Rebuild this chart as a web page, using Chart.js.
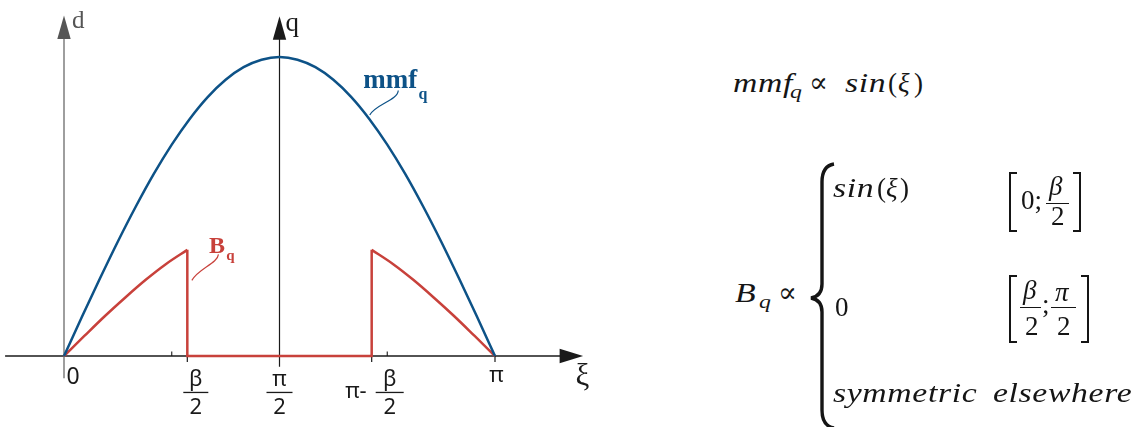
<!DOCTYPE html>
<html>
<head>
<meta charset="utf-8">
<script src="https://cdn.jsdelivr.net/npm/chart.js@4.4.1/dist/chart.umd.min.js"></script>
<style>
  html, body { margin: 0; padding: 0; background: #fff; }
  body { width: 1144px; height: 427px; position: relative; overflow: hidden; }
  #plot { position: absolute; left: 0; top: 0; }
  .m {
    position: absolute; white-space: nowrap; color: #151515;
    font-family: "Liberation Serif", "Times New Roman", "DejaVu Serif", serif;
    font-style: italic; font-size: 27px; line-height: 27px;
  }
  /* math italic words run wider than text italic */
  .w { transform: scaleX(1.25); transform-origin: 0 0; letter-spacing: 0.5px; }
  .r { font-style: normal; }
  .s { font-size: 19px; line-height: 19px; }
  .sym { position: absolute; font-family: "DejaVu Serif", serif; font-size: 28px; line-height: 28px; color: #151515; }
  .bar { position: absolute; height: 1.3px; background: #151515; }
  .brk { position: absolute; width: 6px; border: 2px solid #151515; }
  .brk.l { border-right: none; }
  .brk.rt { border-left: none; }
  #brace { position: absolute; left: 0; top: 0; pointer-events: none; }
</style>
</head>
<body>
<canvas id="plot" width="620" height="427"></canvas>

<!-- mmf_q ∝ sin(ξ) -->
<div class="m w" style="left:733px;top:70px">mmf</div>
<div class="m s w" style="left:790px;top:82px">q</div>
<div class="sym" style="left:809px;top:69px">∝</div>
<div class="m w" style="left:845px;top:70px">sin</div>
<div class="m r" style="left:888px;top:70px">(</div>
<div class="m" style="left:898px;top:70px">ξ</div>
<div class="m r" style="left:914px;top:70px">)</div>

<!-- B_q ∝ { ... -->
<div class="m w" style="left:735px;top:280px">B</div>
<div class="m s w" style="left:759px;top:292px">q</div>
<div class="sym" style="left:778px;top:279px">∝</div>
<svg id="brace" width="1144" height="427">
  <path d="M834 164 Q822 166 822 182 L822 284 Q822 296 811 298 Q822 300 822 312 L822 410 Q822 426 834 428"
        fill="none" stroke="#151515" stroke-width="3.4"/>
</svg>

<div class="m w" style="left:833px;top:175px">sin</div>
<div class="m r" style="left:877px;top:175px">(</div>
<div class="m" style="left:886px;top:175px">ξ</div>
<div class="m r" style="left:900px;top:175px">)</div>
<div class="brk l" style="left:1009px;top:172px;height:56px"></div>
<div class="m r" style="left:1021px;top:187px">0;</div>
<div class="m" style="left:1049px;top:173px">β</div>
<div class="bar" style="left:1046px;top:203px;width:23px"></div>
<div class="m r" style="left:1051px;top:203px">2</div>
<div class="brk rt" style="left:1073px;top:172px;height:56px"></div>

<div class="m r" style="left:835px;top:294px">0</div>
<div class="brk l" style="left:1009px;top:275px;height:64px"></div>
<div class="m" style="left:1023px;top:277px">β</div>
<div class="bar" style="left:1020px;top:307px;width:21px"></div>
<div class="m r" style="left:1025px;top:313px">2</div>
<div class="m r" style="left:1042px;top:291px">;</div>
<div class="m" style="left:1055px;top:279px">π</div>
<div class="bar" style="left:1051px;top:307px;width:25px"></div>
<div class="m r" style="left:1057px;top:313px">2</div>
<div class="brk rt" style="left:1081px;top:275px;height:64px"></div>

<div class="m w" style="left:833px;top:380px">symmetric</div>
<div class="m w" style="left:993px;top:380px">elsewhere</div>

<script>
// electrical angle ξ in degrees, 0..180
const xiDeg = [0, 7.5, 15, 22.5, 30, 37.5, 45, 52.5, 60, 67.5, 75, 82.5, 90,
  97.5, 105, 112.5, 120, 127.5, 135, 142.5, 150, 157.5, 165, 172.5, 180];
// mmf along q axis (normalised to its peak)
const mmfValues = [0, 0.131, 0.259, 0.383, 0.500, 0.609, 0.707, 0.793, 0.866, 0.924, 0.966, 0.991, 1.000,
  0.991, 0.966, 0.924, 0.866, 0.793, 0.707, 0.609, 0.500, 0.383, 0.259, 0.131, 0];

// flux density under the pole shoe, 0..β/2
const bqLeftDeg = [0, 8.5, 17, 25.5, 34, 42.5, 51.5];
const bqLeftVal = [0, 0.067, 0.133, 0.195, 0.254, 0.307, 0.355];
// interpolar gap, β/2..π-β/2
const bqGapDeg = [51.5, 51.5, 128.5, 128.5];
const bqGapVal = [0.355, 0, 0, 0.355];
// second pole shoe, π-β/2..π
const bqRightDeg = [128.5, 137.5, 146, 154.5, 163, 171.5, 180];
const bqRightVal = [0.355, 0.307, 0.254, 0.195, 0.133, 0.067, 0];

// ξ axis ticks
const majorTicks = [0, 51.5, 90, 128.5, 180];
const minorTicks = [45, 135];

const BLUE = '#0d5287';
const RED = '#c8413b';
const INK = '#1a1a1a';
const SERIF = '"Liberation Serif", "Times New Roman", "DejaVu Serif", serif';

const pts = (xs, ys) => xs.map((v, i) => ({ x: v, y: ys[i] }));

function lineDs(data, color, smooth) {
  return {
    data,
    borderColor: color,
    borderWidth: 2.5,
    pointRadius: 0,
    showLine: true,
    fill: false,
    clip: false,
    tension: 0,
    cubicInterpolationMode: smooth ? 'monotone' : 'default',
    borderJoinStyle: 'miter',
  };
}

// axes, arrows, tick marks and labels are drawn by hand
const axesPlugin = {
  id: 'axes',
  beforeDatasetsDraw(chart) {
    const { ctx, scales: { x, y } } = chart;
    const X = (v) => x.getPixelForValue(v);
    const Y = (v) => y.getPixelForValue(v);
    const y0 = Y(0);

    const seg = (x1, y1, x2, y2, color, w) => {
      ctx.beginPath();
      ctx.moveTo(x1, y1);
      ctx.lineTo(x2, y2);
      ctx.strokeStyle = color;
      ctx.lineWidth = w;
      ctx.stroke();
    };
    const tri = (p, color) => {
      ctx.beginPath();
      ctx.moveTo(p[0][0], p[0][1]);
      ctx.lineTo(p[1][0], p[1][1]);
      ctx.lineTo(p[2][0], p[2][1]);
      ctx.closePath();
      ctx.fillStyle = color;
      ctx.fill();
    };

    ctx.save();
    // ξ axis
    seg(X(-24.6), y0, X(208), y0, INK, 1.3);
    tri([[X(216.8), y0], [X(207), y0 - 7.3], [X(207), y0 + 7.3]], INK);

    // d axis (gray)
    seg(X(0), Y(-0.074), X(0), Y(1.07), '#6a6a6a', 1.3);
    tri([[X(0), Y(1.139)], [X(0) - 6.7, Y(1.06)], [X(0) + 6.7, Y(1.06)]], '#555');

    // q axis
    seg(X(90), Y(-0.036), X(90), Y(1.07), INK, 1.2);
    tri([[X(90), Y(1.136)], [X(90) - 6.7, Y(1.058)], [X(90) + 6.7, Y(1.058)]], INK);

    // tick marks below the axis
    [51.5, 128.5, 180].forEach((v) => seg(X(v), y0, X(v), y0 + 6, INK, 1.2));
    // small ticks above the axis
    minorTicks.forEach((v) => seg(X(v), y0, X(v), y0 - 4.5, INK, 1.1));

    // axis names
    ctx.fillStyle = '#555';
    ctx.font = '25px ' + SERIF;
    ctx.textAlign = 'left';
    ctx.textBaseline = 'alphabetic';
    ctx.fillText('d', X(0) + 8, 28);
    ctx.fillStyle = INK;
    ctx.font = '27px ' + SERIF;
    ctx.fillText('q', X(90) + 6, 31);
    ctx.font = '31px ' + SERIF;
    ctx.textAlign = 'center';
    ctx.fillText('ξ', X(216.5), y0 + 29);

    // tick labels
    ctx.font = '23px "Noto Sans"';
    ctx.textAlign = 'left';
    ctx.fillText('0', X(0) + 2.5, 384);
    ctx.font = '22px "Noto Sans"';
    const frac = (cx, top, bottom, w) => {
      ctx.textAlign = 'center';
      ctx.fillText(top, cx, 386);
      ctx.fillText(bottom, cx, 413.5);
      ctx.fillRect(cx - w / 2, 391.8, w, 1.3);
    };
    frac(X(majorTicks[1]) + 8.5, 'β', '2', 25);
    frac(X(majorTicks[2]), 'π', '2', 26);
    frac(X(majorTicks[3]) + 18, 'β', '2', 28);
    ctx.textAlign = 'right';
    ctx.fillText('π-', X(majorTicks[3]) - 5, 398);
    ctx.textAlign = 'center';
    ctx.fillText('π', X(majorTicks[4]) + 1.5, 382);
    ctx.restore();
  },
  afterDatasetsDraw(chart) {
    const { ctx, scales: { x, y } } = chart;
    const X = (v) => x.getPixelForValue(v);
    const Y = (v) => y.getPixelForValue(v);
    ctx.save();

    const leader = (a, c1, c2, b, color) => {
      ctx.beginPath();
      ctx.moveTo(X(a[0]), Y(a[1]));
      ctx.bezierCurveTo(X(c1[0]), Y(c1[1]), X(c2[0]), Y(c2[1]), X(b[0]), Y(b[1]));
      ctx.strokeStyle = color;
      ctx.lineWidth = 1.2;
      ctx.stroke();
    };

    // B_q label
    ctx.fillStyle = RED;
    ctx.font = 'bold 24px ' + SERIF;
    ctx.textAlign = 'left';
    ctx.fillText('B', X(60.6), Y(0.345));
    ctx.font = 'bold 15px ' + SERIF;
    ctx.fillText('q', X(67.8), Y(0.320));
    leader([64.5, 0.340], [64.2, 0.310], [56, 0.292], [53.4, 0.253], RED);

    // mmf_q label
    ctx.fillStyle = BLUE;
    ctx.font = 'bold 27px ' + SERIF;
    ctx.fillText('mmf', X(125.0), Y(0.895));
    ctx.font = 'bold 16px ' + SERIF;
    ctx.fillText('q', X(148.0), Y(0.860));
    leader([139.6, 0.888], [139.4, 0.855], [130, 0.842], [127.7, 0.806], BLUE);
    ctx.restore();
  },
};

new Chart(document.getElementById('plot'), {
  type: 'scatter',
  data: {
    datasets: [
      lineDs(pts(xiDeg, mmfValues), BLUE, true),
      lineDs(pts(bqLeftDeg, bqLeftVal), RED, true),
      lineDs(pts(bqGapDeg, bqGapVal), RED, false),
      lineDs(pts(bqRightDeg, bqRightVal), RED, true),
    ],
  },
  options: {
    responsive: false,
    animation: false,
    layout: { padding: { left: 64, right: 125, top: 57, bottom: 71 } },
    plugins: { legend: { display: false }, tooltip: { enabled: false } },
    scales: {
      x: { type: 'linear', min: 0, max: 180, display: false },
      y: { type: 'linear', min: 0, max: 1, display: false },
    },
  },
  plugins: [axesPlugin],
});
</script>
</body>
</html>
